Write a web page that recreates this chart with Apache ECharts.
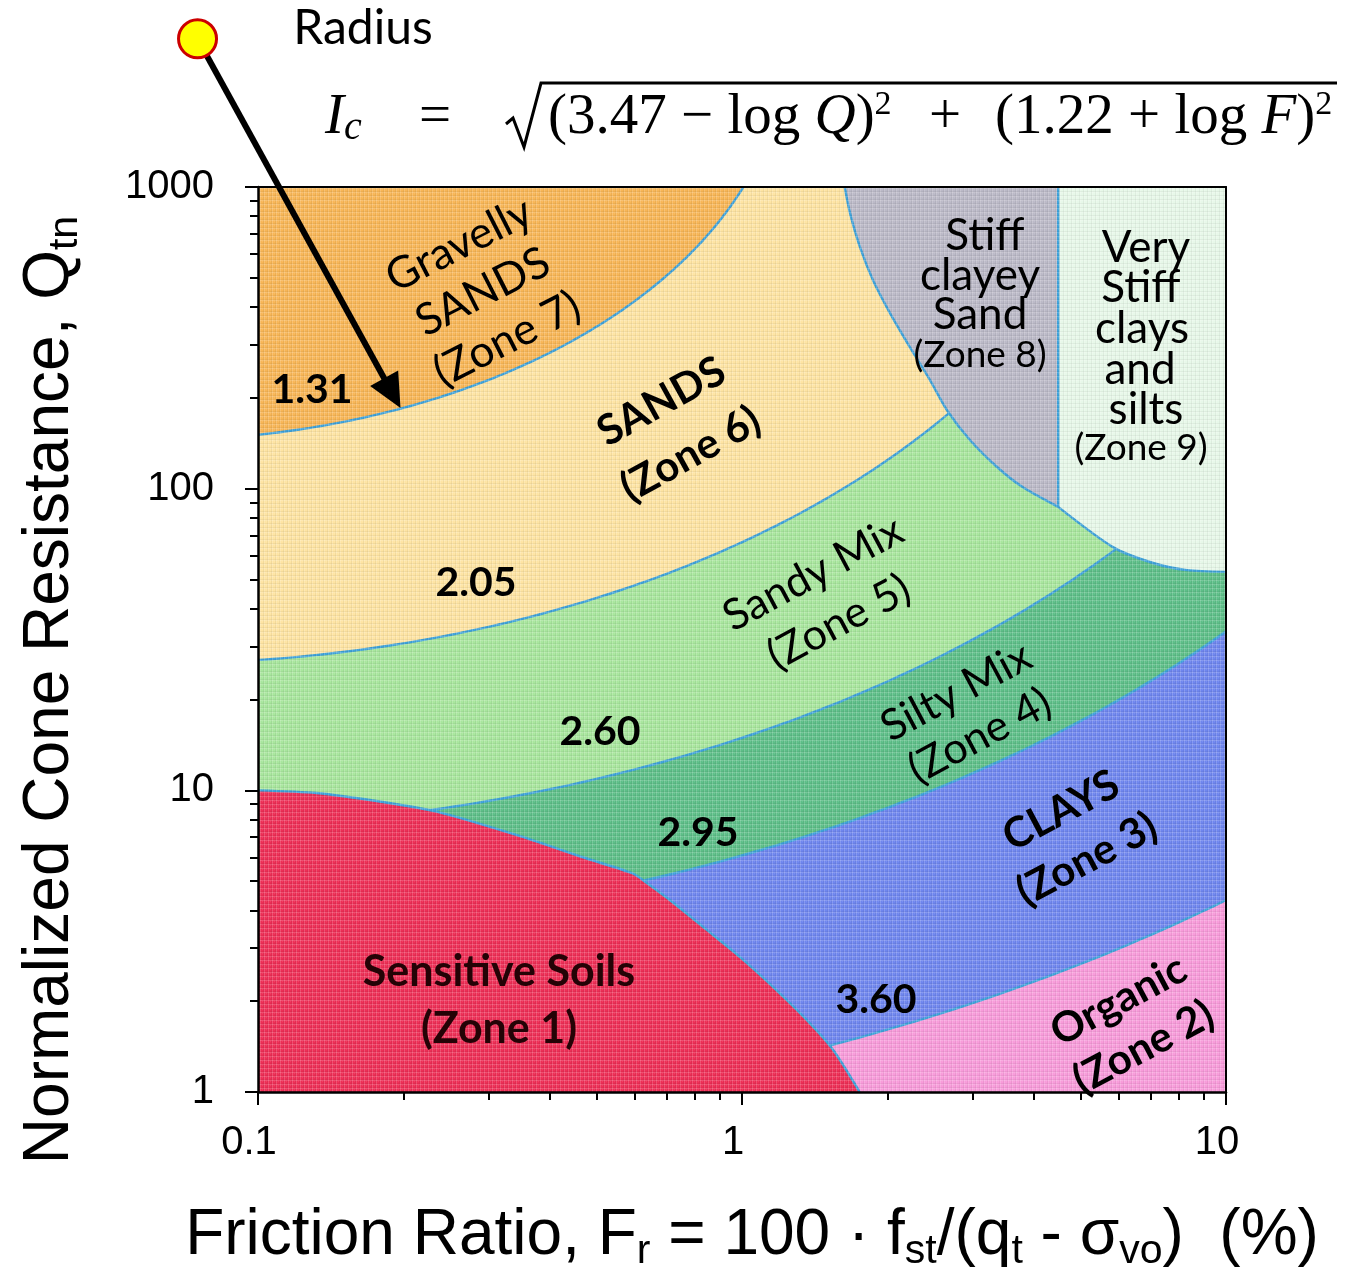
<!DOCTYPE html>
<html>
<head>
<meta charset="utf-8">
<title>Normalized CPT soil behaviour type chart</title>
<script src="https://cdn.jsdelivr.net/npm/echarts@6.0.0/dist/echarts.min.js"></script>
<style>
  html, body { margin: 0; padding: 0; background: #ffffff; }
  #chart { width: 1364px; height: 1273px; }
</style>
</head>
<body>
<div id="chart"></div>
<script>
// ---------- data ----------
const frictionRange = [0.1, 10];      // Fr (%)
const resistanceRange = [1, 1000];    // Qtn
const frictionMinorTicks = [0.2, 0.3, 0.4, 0.5, 0.6, 0.7, 0.8, 0.9, 2, 3, 4, 5, 6, 7, 8, 9];
const resistanceMinorTicks = [2, 3, 4, 5, 6, 7, 8, 9, 20, 30, 40, 50, 60, 70, 80, 90,
  200, 300, 400, 500, 600, 700, 800, 900];

// Ic boundary values, outermost contour first (zones 3, 4, 5, 6, 7 lie inside them)
const icBoundaries = [3.60, 2.95, 2.60, 2.05, 1.31];
// constants of the Ic equation
const icLogQCentre = 3.47;
const icLogFOffset = 1.22;

// upper edge of zone 1, sensitive soils  [Fr, Qtn]
const sensitiveBoundary = [
  [0.1, 10.0], [0.132, 9.8], [0.181, 9.15], [0.234, 8.5], [0.343, 7.1], [0.469, 6.0],
  [0.595, 5.3], [0.636, 4.93], [0.72, 4.25], [0.847, 3.44], [0.991, 2.8], [1.159, 2.23],
  [1.362, 1.73], [1.542, 1.38], [1.75, 1.0]
];
// lower edge of zones 8 and 9  [Fr, Qtn]
const stiffBoundary = [
  [1.63, 1000], [1.672, 819], [1.753, 632], [1.865, 491], [2.022, 382], [2.224, 294],
  [2.446, 229], [2.652, 182], [2.958, 145], [3.365, 118], [3.807, 101], [4.5, 87],
  [5.84, 64], [7.07, 56.7], [8.31, 53.7], [10, 53]
];
// Fr separating zone 8 from zone 9
const zone8to9Friction = 4.5;

// "Radius" pointer, from the centre marker down to the 1.31 contour  [Fr, Qtn]
const radiusPointerStart = [0.075, 3100];
const radiusPointerEnd = [0.197, 185];

// ---------- styles ----------
const colors = {
  zone1: '#ee2f56', zone2: '#f89bda', zone3: '#6f86ef', zone4: '#5dbf88',
  zone5: '#a8e69d', zone6: '#fee4a3', zone7: '#f8b656', zone8: '#bbb9c7', zone9: '#e7f8e9'
};
const icFillColors = [colors.zone3, colors.zone4, colors.zone5, colors.zone6, colors.zone7];
const edgeColor = '#3fa2da';
const edgeWidth = 2.4;
const edgeSmooth = 0.25;
const sansFont = '"Liberation Sans", Arial, sans-serif';
const labelFont = 'Lato, "Open Sans", sans-serif';
const mathFont = '"Liberation Serif", "DejaVu Serif", serif';

// closed Ic contour in (Fr, Qtn) space
function icContour(ic, steps) {
  const pts = [];
  for (let k = 0; k < steps; k++) {
    const t = 2 * Math.PI * k / steps;
    pts.push([Math.pow(10, -icLogFOffset + ic * Math.cos(t)),
              Math.pow(10, icLogQCentre + ic * Math.sin(t))]);
  }
  return pts;
}

// a curved edge filled on one side: smoothed curve closed by its chord,
// plus the straight-sided piece between the chord and the corners
function curvedRegion(edgePx, cornersPx, fill) {
  const first = edgePx[0], last = edgePx[edgePx.length - 1];
  return [
    { type: 'polyline', shape: { points: edgePx, smooth: edgeSmooth }, style: { fill: fill, stroke: null } },
    { type: 'polygon', shape: { points: [last].concat(cornersPx, [first]) },
      style: { fill: fill, stroke: fill, lineWidth: 1.2 } },
    { type: 'polyline', shape: { points: edgePx, smooth: edgeSmooth },
      style: { fill: null, stroke: edgeColor, lineWidth: edgeWidth } }
  ];
}

// woven canvas texture laid over the plotting area
function weaveTile() {
  const c = document.createElement('canvas');
  c.width = 4; c.height = 4;
  const g = c.getContext('2d');
  g.fillStyle = 'rgba(255,255,255,0.16)';
  g.fillRect(0, 0, 4, 1);
  g.fillRect(0, 0, 1, 4);
  g.fillStyle = 'rgba(0,0,0,0.045)';
  g.fillRect(0, 3, 4, 1);
  g.fillRect(3, 0, 1, 4);
  g.fillStyle = 'rgba(255,255,255,0.08)';
  g.fillRect(2, 1, 1, 1);
  return c;
}

const chart = echarts.init(document.getElementById('chart'), null, { renderer: 'canvas' });

const tickText = v => String(+Number(v).toPrecision(3));

// zone names drawn across the chart
const zoneLabels = [
  { text: 'Gravelly\nSANDS\n(Zone 7)', x: 483, y: 292, rot: 27, size: 44, bold: false, lh: 53 },
  { text: 'SANDS\n(Zone 6)', x: 676, y: 428, rot: 29, size: 42, bold: true, lh: 60 },
  { text: 'Sandy Mix\n(Zone 5)', x: 826, y: 598, rot: 28, size: 43, bold: false, lh: 55 },
  { text: 'Silty Mix\n(Zone 4)', x: 968, y: 714, rot: 28, size: 43, bold: false, lh: 50 },
  { text: 'CLAYS\n(Zone 3)', x: 1074, y: 835, rot: 28, size: 42, bold: true, lh: 55 },
  { text: 'Organic\n(Zone 2)', x: 1131, y: 1024, rot: 28, size: 42, bold: true, lh: 53 },
  { text: 'Sensitive Soils\n(Zone 1)', x: 499, y: 1001, rot: 0, size: 43, bold: true, lh: 57, color: '#240306' }
];
const stackedLabels = [
  { text: 'Stiff', x: 985, y: 236, size: 44 },
  { text: 'clayey', x: 980, y: 276, size: 44 },
  { text: 'Sand', x: 980, y: 315, size: 44 },
  { text: '(Zone 8)', x: 980, y: 355, size: 37 },
  { text: 'Very', x: 1146, y: 248, size: 44 },
  { text: 'Stiff', x: 1141, y: 288, size: 44 },
  { text: 'clays', x: 1142, y: 329, size: 44 },
  { text: 'and', x: 1140, y: 370, size: 44 },
  { text: 'silts', x: 1146, y: 410, size: 44 },
  { text: '(Zone 9)', x: 1141, y: 448, size: 37 }
];
// where each Ic value is written (same order as icBoundaries)
const icLabelPlaces = [[876, 1000], [698, 833], [600, 732], [476, 583], [312, 390]];

const graphicElements = [];
graphicElements.push({
  type: 'rect', z: 50, silent: true,
  shape: { x: 258, y: 187, width: 968, height: 905 },
  style: { fill: { image: weaveTile(), repeat: 'repeat' } }
});
zoneLabels.forEach(l => graphicElements.push({
  type: 'text', x: l.x, y: l.y, rotation: l.rot * Math.PI / 180, z: 100, silent: true,
  style: {
    text: l.text, fill: l.color || '#000', fontFamily: labelFont, fontSize: l.size,
    fontWeight: l.bold ? 'bold' : 'normal', lineHeight: l.lh, align: 'center', verticalAlign: 'middle'
  }
}));
stackedLabels.forEach(l => graphicElements.push({
  type: 'text', x: l.x, y: l.y, z: 100, silent: true,
  style: { text: l.text, fill: '#000', fontFamily: labelFont, fontSize: l.size, align: 'center', verticalAlign: 'middle' }
}));
icBoundaries.forEach((ic, i) => graphicElements.push({
  type: 'text', x: icLabelPlaces[i][0], y: icLabelPlaces[i][1], z: 100, silent: true,
  style: { text: ic.toFixed(2), fill: '#000', fontFamily: labelFont, fontSize: 41, fontWeight: 'bold',
    align: 'center', verticalAlign: 'middle' }
}));

// "Radius" caption and the Ic equation
graphicElements.push({
  type: 'text', x: 363, y: 29, z: 100, silent: true,
  style: { text: 'Radius', fill: '#000', fontFamily: labelFont, fontSize: 48, align: 'center', verticalAlign: 'middle' }
});
const mathRich = {
  p: { fontFamily: mathFont, fontSize: 57, lineHeight: 60, fill: '#000' },
  i: { fontFamily: mathFont, fontSize: 57, lineHeight: 60, fontStyle: 'italic', fill: '#000' },
  sup: { fontFamily: mathFont, fontSize: 34, lineHeight: 28, verticalAlign: 'top', fill: '#000' },
  sub: { fontFamily: mathFont, fontSize: 40, lineHeight: 26, fontStyle: 'italic', verticalAlign: 'bottom', fill: '#000' }
};
graphicElements.push(
  { type: 'text', x: 325, y: 148, z: 100, silent: true,
    style: { text: '{i|I}{sub|c}', rich: mathRich, align: 'left', verticalAlign: 'bottom' } },
  { type: 'text', x: 435, y: 148, z: 100, silent: true,
    style: { text: '{p|=}', rich: mathRich, align: 'center', verticalAlign: 'bottom' } },
  { type: 'polyline', z: 100, silent: true,
    shape: { points: [[506, 124], [513, 118], [524, 147], [541, 83], [1337, 83]] },
    style: { stroke: '#000', lineWidth: 3, fill: null } },
  { type: 'text', x: 548, y: 148, z: 100, silent: true,
    style: { text: '{p|(3.47 − log }{i|Q}{p|)}{sup|2}', rich: mathRich, align: 'left', verticalAlign: 'bottom' } },
  { type: 'text', x: 945, y: 148, z: 100, silent: true,
    style: { text: '{p|+}', rich: mathRich, align: 'center', verticalAlign: 'bottom' } },
  { type: 'text', x: 995, y: 148, z: 100, silent: true,
    style: { text: '{p|(1.22 + log }{i|F}{p|)}{sup|2}', rich: mathRich, align: 'left', verticalAlign: 'bottom' } }
);

// axis titles
const titleRich = {
  m: { fontFamily: sansFont, fontSize: 64, lineHeight: 72, fill: '#000' },
  s: { fontFamily: sansFont, fontSize: 41, lineHeight: 36, verticalAlign: 'bottom', fill: '#000' }
};
graphicElements.push(
  { type: 'text', x: 752, y: 1200, z: 100, silent: true,
    style: { text: '{m|Friction Ratio, F}{s|r}{m| = 100 · f}{s|st}{m|/(q}{s|t}{m| - σ}{s|vo}{m|)  (%)}',
      rich: titleRich, align: 'center', verticalAlign: 'top' } },
  { type: 'text', x: 50, y: 690, rotation: Math.PI / 2, z: 100, silent: true,
    style: { text: '{m|Normalized Cone Resistance, Q}{s|tn}', rich: titleRich, align: 'center', verticalAlign: 'middle' } }
);

const hiddenAxisParts = { axisLabel: { show: false }, splitLine: { show: false } };

const option = {
  animation: false,
  backgroundColor: '#ffffff',
  grid: {
    left: 258, top: 187, width: 968, height: 905,
    containLabel: false, outerBoundsMode: 'none',
    show: true, backgroundColor: colors.zone2, borderWidth: 0
  },
  xAxis: [
    {
      type: 'log', logBase: 10, min: frictionRange[0], max: frictionRange[1], position: 'bottom', z: 60,
      axisLine: { show: true, onZero: false, lineStyle: { color: '#000', width: 2.5 } },
      axisTick: { show: true, inside: false, length: 13, lineStyle: { color: '#000', width: 2 } },
      axisLabel: { show: true, margin: 31, color: '#000', fontSize: 40, fontFamily: sansFont,
        padding: [0, 18, 0, 0], formatter: tickText },
      splitLine: { show: false }
    },
    Object.assign({
      type: 'log', logBase: 10, min: frictionRange[0], max: frictionRange[1], position: 'bottom', z: 60,
      axisLine: { show: false, onZero: false },
      axisTick: { show: true, inside: false, length: 8, customValues: frictionMinorTicks, lineStyle: { color: '#000', width: 2 } }
    }, hiddenAxisParts),
    Object.assign({
      type: 'log', logBase: 10, min: frictionRange[0], max: frictionRange[1], position: 'top', z: 60,
      axisLine: { show: true, onZero: false, lineStyle: { color: '#000', width: 2 } },
      axisTick: { show: false }
    }, hiddenAxisParts)
  ],
  yAxis: [
    {
      type: 'log', logBase: 10, min: resistanceRange[0], max: resistanceRange[1], position: 'left', z: 60,
      axisLine: { show: true, onZero: false, lineStyle: { color: '#000', width: 2.5 } },
      axisTick: { show: true, inside: false, length: 13, lineStyle: { color: '#000', width: 2 } },
      axisLabel: { show: true, margin: 44, color: '#000', fontSize: 40, fontFamily: sansFont, formatter: tickText },
      splitLine: { show: false }
    },
    Object.assign({
      type: 'log', logBase: 10, min: resistanceRange[0], max: resistanceRange[1], position: 'left', z: 60,
      axisLine: { show: false, onZero: false },
      axisTick: { show: true, inside: false, length: 8, customValues: resistanceMinorTicks, lineStyle: { color: '#000', width: 2 } }
    }, hiddenAxisParts),
    Object.assign({
      type: 'log', logBase: 10, min: resistanceRange[0], max: resistanceRange[1], position: 'right', z: 60,
      axisLine: { show: true, onZero: false, lineStyle: { color: '#000', width: 2 } },
      axisTick: { show: false }
    }, hiddenAxisParts)
  ],
  series: [
    {
      name: 'Ic zones', type: 'custom', coordinateSystem: 'cartesian2d', clip: true, z: 2, silent: true,
      data: icBoundaries.map(ic => [ic, ic]),
      renderItem(params, api) {
        const ic = icBoundaries[params.dataIndex];
        return {
          type: 'polygon',
          shape: { points: icContour(ic, 720).map(p => api.coord(p)) },
          style: { fill: icFillColors[params.dataIndex], stroke: edgeColor, lineWidth: edgeWidth }
        };
      }
    },
    {
      name: 'Stiff zones', type: 'custom', coordinateSystem: 'cartesian2d', clip: true, z: 3, silent: true,
      data: [[zone8to9Friction, resistanceRange[1]]],
      renderItem(params, api) {
        const top = resistanceRange[1];
        const zone8Edge = stiffBoundary.filter(p => p[0] <= zone8to9Friction).map(p => api.coord(p));
        const zone9Edge = stiffBoundary.filter(p => p[0] >= zone8to9Friction).map(p => api.coord(p));
        const splitTop = api.coord([zone8to9Friction, top]);
        const rightTop = api.coord([frictionRange[1], top]);
        const splitBottom = zone8Edge[zone8Edge.length - 1];
        return {
          type: 'group',
          children: curvedRegion(zone8Edge, [splitTop], colors.zone8)
            .concat(curvedRegion(zone9Edge, [rightTop, splitTop], colors.zone9))
            .concat([{ type: 'line', shape: { x1: splitBottom[0], y1: splitBottom[1], x2: splitTop[0], y2: splitTop[1] },
              style: { stroke: edgeColor, lineWidth: edgeWidth } }])
        };
      }
    },
    {
      name: 'Sensitive soils', type: 'custom', coordinateSystem: 'cartesian2d', clip: true, z: 4, silent: true,
      data: [sensitiveBoundary[0]],
      renderItem(params, api) {
        const edge = sensitiveBoundary.map(p => api.coord(p));
        const corner = api.coord([frictionRange[0], resistanceRange[0]]);
        return { type: 'group', children: curvedRegion(edge, [corner], colors.zone1) };
      }
    },
    {
      name: 'Radius', type: 'custom', coordinateSystem: 'cartesian2d', clip: false, z: 70, silent: true,
      data: [radiusPointerEnd],
      renderItem(params, api) {
        const s = api.coord(radiusPointerStart);
        const e = api.coord(radiusPointerEnd);
        const dx = e[0] - s[0], dy = e[1] - s[1];
        const len = Math.sqrt(dx * dx + dy * dy);
        const ux = dx / len, uy = dy / len;
        const headLen = 34, headHalf = 16;
        const bx = e[0] - ux * headLen, by = e[1] - uy * headLen;
        return {
          type: 'group',
          children: [
            { type: 'line', shape: { x1: s[0], y1: s[1], x2: bx + ux * 4, y2: by + uy * 4 },
              style: { stroke: '#000', lineWidth: 6 } },
            { type: 'polygon', shape: { points: [e, [bx - uy * headHalf, by + ux * headHalf], [bx + uy * headHalf, by - ux * headHalf]] },
              style: { fill: '#000' } },
            { type: 'circle', shape: { cx: s[0], cy: s[1], r: 19 },
              style: { fill: '#ffff00', stroke: '#cc0000', lineWidth: 3 } }
          ]
        };
      }
    }
  ],
  graphic: { elements: graphicElements }
};

chart.setOption(option);
</script>
</body>
</html>
